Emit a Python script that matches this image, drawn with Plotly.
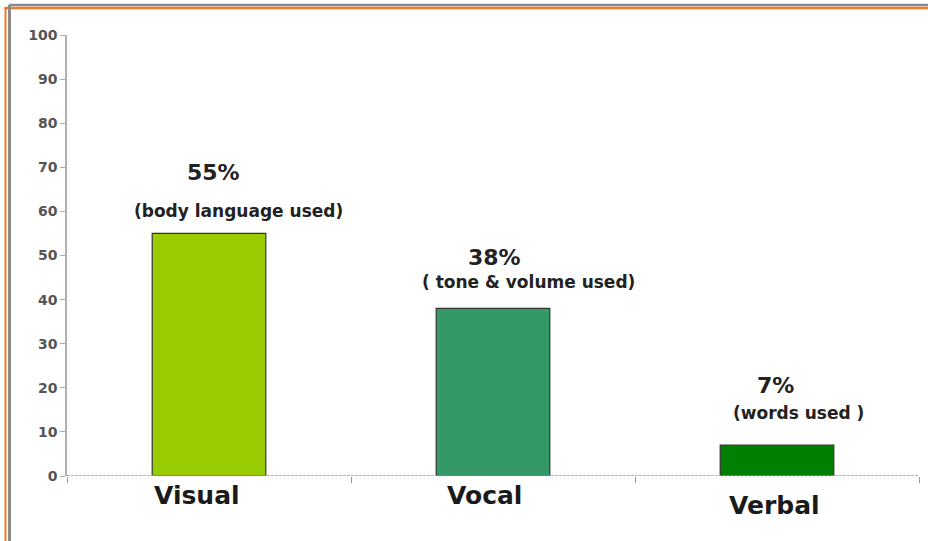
import plotly.graph_objects as go

categories = ["Visual", "Vocal", "Verbal"]
values = [55, 38, 7]
pct_labels = ["55%", "38%", "7%"]
sub_labels = ["(body language used)", "( tone & volume used)", "(words used )"]
colors = ["#99CC00", "#339966", "#008000"]
y_ticks = [0, 10, 20, 30, 40, 50, 60, 70, 80, 90, 100]

W, H = 928, 541
L, R, T, B = 67, 9, 35, 65
pw, ph = W - L - R, H - T - B

def px_x(p):
    return (p - L) / pw

def px_y(p):
    return (H - B - p) / ph

fig = go.Figure()
fig.add_trace(go.Bar(
    x=categories, y=values, width=0.4,
    marker=dict(color=colors, line=dict(color="#333333", width=1.2)),
    hoverinfo="skip",
))

# text offsets (pixel) relative to bar tops/centres
pct_up = [61, 51, 60]
pct_dx = [4, 1, -2]
sub_up = [22, 26, 32]
sub_dx = [29, 35, 21]
cat_dx = [-12, -9, -3]
cat_dy = [19, 19, 29]

annotations = []
for i, c in enumerate(categories):
    annotations.append(dict(x=c, y=values[i], xref="x", yref="y", text="<b>" + pct_labels[i] + "</b>",
                            showarrow=False, xshift=pct_dx[i], yshift=pct_up[i],
                            font=dict(family="DejaVu Sans", size=22, color="#222222"),
                            yanchor="middle"))
    annotations.append(dict(x=c, y=values[i], xref="x", yref="y", text="<b>" + sub_labels[i] + "</b>",
                            showarrow=False, xshift=sub_dx[i], yshift=sub_up[i],
                            font=dict(family="DejaVu Sans", size=17, color="#222222"),
                            yanchor="middle"))
    annotations.append(dict(x=c, y=0, xref="x", yref="y", text="<b>" + c + "</b>",
                            showarrow=False, xshift=cat_dx[i], yshift=-cat_dy[i],
                            font=dict(family="DejaVu Sans", size=25, color="#1a1a1a"),
                            yanchor="middle"))

shapes = [
    # top gray and orange lines
    dict(type="line", xref="paper", yref="paper", x0=px_x(9), x1=px_x(W + 2), y0=px_y(5), y1=px_y(5),
         line=dict(color="#8a8a8a", width=2.5)),
    dict(type="line", xref="paper", yref="paper", x0=px_x(4.5), x1=px_x(W + 2), y0=px_y(8), y1=px_y(8),
         line=dict(color="#F07828", width=2.5)),
    # left orange and gray lines
    dict(type="line", xref="paper", yref="paper", x0=px_x(5.5), x1=px_x(5.5), y0=px_y(7), y1=px_y(H + 2),
         line=dict(color="#F07828", width=2)),
    dict(type="line", xref="paper", yref="paper", x0=px_x(9.5), x1=px_x(9.5), y0=px_y(5), y1=px_y(H + 2),
         line=dict(color="#8a8a8a", width=3)),
    # dashed baseline
    dict(type="line", xref="paper", yref="y", x0=0, x1=1, y0=0, y1=0,
         line=dict(color="#9a9a9a", width=1.5, dash="3px,1px")),
]

fig.update_layout(
    width=W, height=H,
    margin=dict(l=L, r=R, t=T, b=B),
    paper_bgcolor="white", plot_bgcolor="white",
    showlegend=False,
    bargap=0.6,
    annotations=annotations,
    shapes=shapes,
    xaxis=dict(range=[-0.5, 2.5], showticklabels=False, ticks="outside", tickson="boundaries",
               ticklen=6, tickcolor="#9a9a9a", showline=False, showgrid=False, zeroline=False),
    yaxis=dict(range=[0, 100], tickvals=y_ticks, ticks="outside", ticklen=5, tickcolor="#aaaaaa",
               showline=True, linecolor="#b0b0b0", linewidth=1.5, showgrid=False, zeroline=False,
               tickfont=dict(family="DejaVu Sans", size=14, color="#555555", weight="bold")),
)

fig.write_html("out.html", config={"displayModeBar": False},
               post_script="document.body.style.margin='0';")
